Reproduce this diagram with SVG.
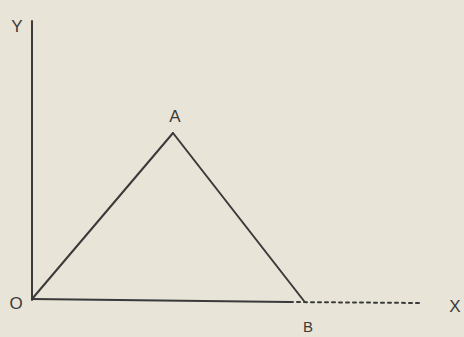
<svg xmlns="http://www.w3.org/2000/svg" width="464" height="337" viewBox="0 0 464 337">
<style>
.ln{stroke:#3a3a3a;stroke-width:2;fill:none;stroke-linecap:round}
.lb{font-family:"Liberation Sans",Arial,sans-serif;font-size:17px;fill:#3a3a3a;text-anchor:middle}
</style>
<rect width="464" height="337" fill="#e9e4d8"/>
<g id="connectors">
<line class="ln" x1="32" y1="300" x2="32" y2="21"/>
<line class="ln" x1="32" y1="299" x2="290" y2="302"/>
<line class="ln" x1="290" y1="302" x2="420" y2="303" stroke-dasharray="3 4" stroke-width="1.5"/>
<line class="ln" x1="32" y1="299" x2="173" y2="133"/>
<line class="ln" x1="173" y1="133" x2="304" y2="301"/>
</g>
<g id="Y"><text class="lb" x="17" y="32">Y</text></g>
<g id="A"><text class="lb" x="175" y="122">A</text></g>
<g id="O"><text class="lb" x="16" y="309">O</text></g>
<g id="B"><text class="lb" x="308" y="332" style="font-size:15px">B</text></g>
<g id="X"><text class="lb" x="455" y="312">X</text></g>
</svg>
